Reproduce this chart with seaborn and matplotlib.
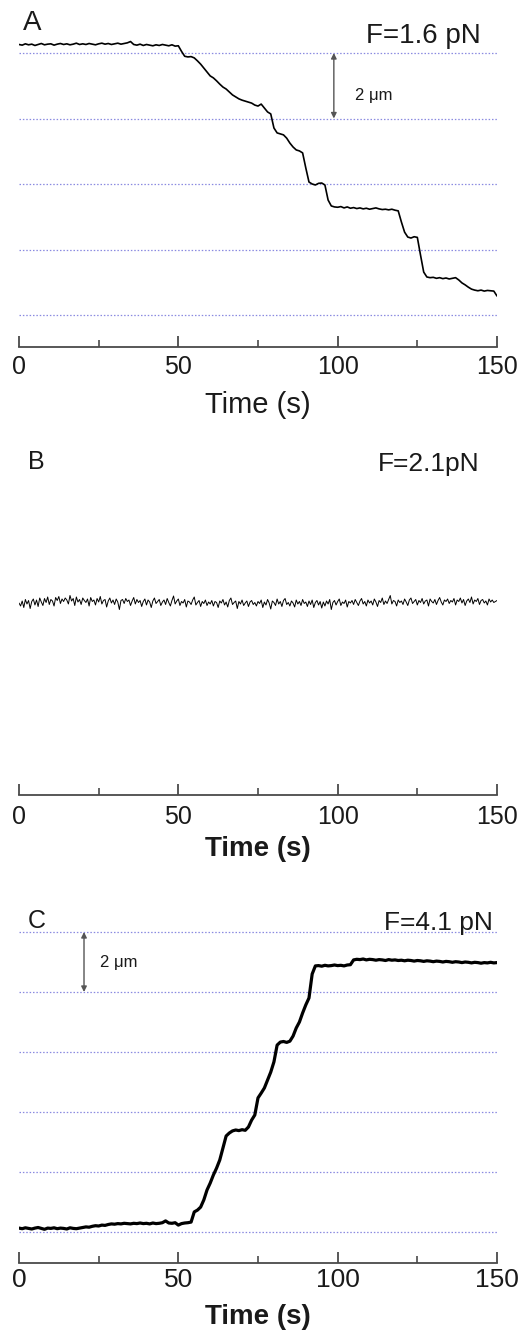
import numpy as np
import pandas as pd
import matplotlib
matplotlib.use("Agg")
import matplotlib.pyplot as plt
import seaborn as sns

# ---------------- data ----------------
time_a = list(range(0, 151))
disp_a = [
    0.26, 0.24, 0.28, 0.25, 0.27, 0.23, 0.26, 0.29, 0.25, 0.27,
    0.28, 0.24, 0.27, 0.29, 0.26, 0.28, 0.25, 0.27, 0.30, 0.26,
    0.28, 0.26, 0.29, 0.27, 0.25, 0.28, 0.30, 0.27, 0.29, 0.26,
    0.28, 0.30, 0.27, 0.29, 0.31, 0.35, 0.26, 0.24, 0.27, 0.23,
    0.26, 0.24, 0.22, 0.25, 0.23, 0.26, 0.24, 0.22, 0.25, 0.21,
    0.22, 0.05, -0.10, -0.12, -0.11, -0.15, -0.24, -0.34, -0.46, -0.58,
    -0.70, -0.76, -0.85, -0.95, -1.04, -1.10, -1.19, -1.28, -1.34, -1.40,
    -1.44, -1.47, -1.50, -1.53, -1.59, -1.62, -1.56, -1.68, -1.80, -1.86,
    -2.29, -2.44, -2.47, -2.50, -2.60, -2.75, -2.87, -2.96, -2.99, -3.05,
    -3.51, -3.94, -4.00, -4.03, -3.98, -3.97, -4.03, -4.49, -4.67, -4.70,
    -4.71, -4.69, -4.73, -4.70, -4.74, -4.72, -4.75, -4.73, -4.76, -4.74,
    -4.77, -4.75, -4.73, -4.76, -4.78, -4.77, -4.79, -4.77, -4.80, -4.82,
    -5.16, -5.47, -5.62, -5.65, -5.61, -5.63, -6.17, -6.69, -6.84, -6.86,
    -6.85, -6.88, -6.86, -6.89, -6.87, -6.90, -6.88, -6.86, -6.93, -7.02,
    -7.08, -7.15, -7.21, -7.24, -7.26, -7.24, -7.27, -7.25, -7.26, -7.27,
    -7.42,
]

disp_b = [
    0.00, -0.06, 0.04, -0.09, 0.07, -0.02, 0.05, -0.11, 0.03, 0.08, -0.04, 0.06, -0.07, 0.10, 0.02,
    -0.05, 0.09, 0.01, 0.12, -0.03, 0.07, 0.04, -0.06, 0.11, 0.05, 0.13, -0.01, 0.08, 0.03, 0.10,
    0.06, -0.02, 0.15, 0.04, 0.09, -0.05, 0.12, 0.02, 0.07, -0.03, 0.10, 0.05, 0.01, 0.08, -0.06,
    0.11, 0.03, 0.06, -0.04, 0.09, 0.02, 0.13, -0.02, 0.05, 0.07, -0.08, 0.04, 0.10, 0.00, 0.06,
    -0.03, 0.08, 0.02, -0.13, 0.05, 0.07, -0.01, 0.09, 0.03, 0.06, -0.05, 0.04, 0.11, -0.02, 0.07,
    0.01, 0.05, -0.07, 0.03, 0.08, -0.04, 0.06, 0.02, -0.09, 0.04, 0.10, -0.01, 0.03, 0.07, -0.05,
    0.02, 0.06, -0.03, 0.09, 0.01, -0.06, 0.05, 0.14, -0.02, 0.04, 0.08, -0.05, 0.03, 0.00, 0.07,
    -0.08, 0.04, 0.02, -0.03, 0.06, 0.12, -0.04, 0.01, 0.05, -0.07, 0.03, -0.01, 0.06, -0.05, 0.02,
    -0.02, 0.05, -0.06, 0.03, 0.01, -0.09, 0.04, 0.00, 0.07, -0.04, 0.02, -0.08, 0.05, 0.10, -0.03,
    0.01, 0.04, -0.11, 0.03, -0.02, 0.06, -0.05, 0.00, 0.04, -0.07, 0.02, 0.05, -0.03, 0.01, -0.06,
    0.03, -0.01, 0.06, -0.09, 0.02, -0.04, 0.07, 0.00, -0.12, 0.04, 0.01, -0.05, 0.08, -0.02, 0.03,
    -0.07, 0.05, 0.09, -0.03, 0.01, -0.06, 0.04, 0.00, -0.08, 0.06, -0.02, 0.03, -0.05, 0.07, -0.01,
    0.02, -0.07, 0.04, -0.03, 0.06, -0.09, 0.01, 0.05, -0.04, 0.03, -0.10, 0.02, -0.06, 0.04, -0.02,
    0.07, -0.13, 0.01, 0.05, -0.04, 0.03, 0.08, -0.05, 0.02, -0.01, 0.06, -0.08, 0.03, 0.00, 0.05,
    -0.03, 0.07, 0.01, -0.05, 0.04, 0.09, -0.02, 0.03, -0.06, 0.06, 0.00, 0.04, -0.04, 0.08, 0.02,
    -0.07, 0.05, 0.01, 0.10, -0.03, 0.04, -0.01, 0.07, 0.15, -0.02, 0.05, 0.03, -0.06, 0.06, 0.01,
    0.04, -0.03, 0.08, 0.02, -0.05, 0.06, 0.10, -0.01, 0.03, 0.07, -0.04, 0.05, 0.01, 0.09, -0.02,
    0.04, 0.06, -0.06, 0.08, 0.03, 0.00, 0.07, -0.03, 0.05, 0.11, 0.02, -0.04, 0.06, 0.03, 0.08,
    -0.01, 0.05, 0.02, 0.09, -0.04, 0.06, 0.03, 0.10, 0.00, 0.07, -0.05, 0.04, 0.08, 0.01, 0.12,
    -0.02, 0.06, 0.03, 0.09, -0.03, 0.05, 0.07, 0.00, 0.04, -0.04, 0.08, 0.02, 0.06, 0.01, 0.03,
    0.05,
]
time_b = np.linspace(0, 150, len(disp_b))

time_c = list(range(0, 151))
disp_c = [
    0.13, 0.11, 0.14, 0.12, 0.10, 0.13, 0.15, 0.12, 0.09, 0.13,
    0.12, 0.14, 0.11, 0.13, 0.12, 0.10, 0.14, 0.12, 0.11, 0.13,
    0.15, 0.17, 0.16, 0.19, 0.21, 0.20, 0.23, 0.22, 0.25, 0.27,
    0.26, 0.28, 0.27, 0.29, 0.28, 0.27, 0.29, 0.28, 0.30, 0.28,
    0.29, 0.27, 0.30, 0.28, 0.29, 0.31, 0.37, 0.30, 0.29, 0.31,
    0.23, 0.28, 0.30, 0.31, 0.33, 0.67, 0.73, 0.83, 1.07, 1.40,
    1.63, 1.90, 2.13, 2.40, 2.80, 3.20, 3.30, 3.37, 3.40, 3.38,
    3.41, 3.39, 3.50, 3.73, 3.90, 4.47, 4.63, 4.80, 5.07, 5.33,
    5.67, 6.23, 6.33, 6.35, 6.32, 6.36, 6.53, 6.80, 7.00, 7.30,
    7.57, 7.80, 8.60, 8.87, 8.88, 8.86, 8.89, 8.87, 8.88, 8.90,
    8.88, 8.89, 8.87, 8.90, 8.91, 9.07, 9.09, 9.08, 9.10, 9.07,
    9.09, 9.08, 9.06, 9.08, 9.07, 9.05, 9.08, 9.06, 9.07, 9.05,
    9.06, 9.04, 9.06, 9.05, 9.03, 9.05, 9.04, 9.02, 9.04, 9.03,
    9.01, 9.03, 9.02, 9.00, 9.02, 9.01, 8.99, 9.01, 9.00, 8.98,
    9.00, 8.99, 8.97, 8.99, 8.98, 8.96, 8.98, 8.97, 8.99, 8.97,
    8.98,
]

levels_a = [0, -2, -4, -6, -8]
levels_c = [0, 2, 4, 6, 8, 10]
major_ticks = [0, 50, 100, 150]
minor_ticks = [25, 75, 125]
tick_labels = ["0", "50", "100", "150"]

# ---------------- style ----------------
sns.set_theme(style="white")
plt.rcParams['font.family'] = ['Liberation Sans', 'DejaVu Sans']

W, H = 530, 1331
fig = plt.figure(figsize=(W / 100, H / 100), dpi=100)
fig.patch.set_facecolor("white")


def add_axes_px(left, top, right, bottom):
    return fig.add_axes([left / W, 1 - bottom / H, (right - left) / W, (bottom - top) / H])


def ftext(x, y, s, **kw):
    fig.text(x / W, 1 - y / H, s, **kw)


AX_COL = "#4a4a4a"
DOT_COL = "#8a8ae0"


def style_axis(ax, ylim, tick_size, pad_pt, label_y, bold, label_size):
    ax.set_xlim(0, 150)
    ax.set_ylim(*ylim)
    ax.set_facecolor("none")
    ax.grid(False)
    for s in ["left", "right", "top"]:
        ax.spines[s].set_visible(False)
    ax.spines["bottom"].set_color(AX_COL)
    ax.spines["bottom"].set_linewidth(1.3)
    ax.set_yticks([])
    ax.set_ylabel("")
    ax.set_xticks(major_ticks)
    ax.set_xticklabels(tick_labels)
    ax.set_xticks(minor_ticks, minor=True)
    ax.tick_params(axis="x", which="major", direction="in", length=8, width=1.3,
                   color=AX_COL, labelsize=tick_size, pad=pad_pt, labelcolor="#1a1a1a",
                   bottom=True)
    ax.tick_params(axis="x", which="minor", direction="in", length=5, width=1.2,
                   color=AX_COL, bottom=True)
    ax.set_xlabel("Time (s)", fontsize=label_size, color="#1a1a1a",
                  fontweight="bold" if bold else "normal")
    ax.xaxis.set_label_coords(0.5, label_y)


# ---------------- Panel A ----------------
axA = add_axes_px(19, 0, 497, 347)
for lv in levels_a:
    axA.axhline(lv, color=DOT_COL, lw=0.9, ls=(0, (1.2, 1.5)), zorder=1)
sns.lineplot(x=time_a, y=disp_a, ax=axA, color="black", linewidth=1.2, zorder=3)
style_axis(axA, ((53 - 347) / 32.75, 53 / 32.75), 18, 5.5, -(391 - 347) / 347, False, 21)
axA.annotate("", xy=(98.8, 0), xytext=(98.8, -2),
             arrowprops=dict(arrowstyle="<|-|>", color="#555555", lw=1.0,
                             mutation_scale=8, shrinkA=0, shrinkB=0))
axA.text(105.4, -1.31, "2 μm", fontsize=12, va="center", ha="left", color="#1a1a1a")
ftext(32, 23, "A", fontsize=20, ha="center", va="center", color="#1a1a1a")
ftext(481, 43, "F=1.6 pN", fontsize=20, ha="right", va="baseline", color="#1a1a1a")

# ---------------- Panel B ----------------
axB = add_axes_px(19, 430, 497, 795)
sns.lineplot(x=time_b, y=disp_b, ax=axB, color="black", linewidth=0.7, zorder=3)
style_axis(axB, ((603 - 795) / 50.0, (603 - 430) / 50.0), 18, 7.0, -(836 - 795) / 365, True, 20)
ftext(36, 462, "B", fontsize=18, ha="center", va="center", color="#1a1a1a")
ftext(480, 471, "F=2.1pN", fontsize=19, ha="right", va="baseline", color="#1a1a1a")

# ---------------- Panel C ----------------
axC = add_axes_px(19, 880, 497, 1263)
for lv in levels_c:
    axC.axhline(lv, color=DOT_COL, lw=0.9, ls=(0, (1.2, 1.5)), zorder=1)
sns.lineplot(x=time_c, y=disp_c, ax=axC, color="black", linewidth=2.3, zorder=3)
style_axis(axC, ((1232 - 1263) / 30, (1232 - 880) / 30), 19, 3.5, -(1304 - 1263) / 383, True, 20)
axC.annotate("", xy=(20.4, 10), xytext=(20.4, 8),
             arrowprops=dict(arrowstyle="<|-|>", color="#555555", lw=1.0,
                             mutation_scale=8, shrinkA=0, shrinkB=0))
axC.text(25.4, 8.97, "2 μm", fontsize=12, va="center", ha="left", color="#1a1a1a")
ftext(37, 921, "C", fontsize=18, ha="center", va="center", color="#1a1a1a")
ftext(493, 930, "F=4.1 pN", fontsize=19, ha="right", va="baseline", color="#1a1a1a")

fig.savefig("out.png", dpi=100, facecolor="white")
